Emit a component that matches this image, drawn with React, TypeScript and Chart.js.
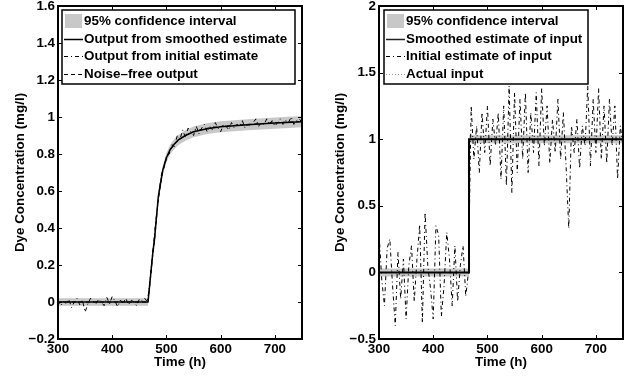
import React, { useEffect, useRef } from 'react';
import { Chart, registerables } from 'chart.js';

Chart.register(...registerables);

const FONT = '"Liberation Sans", Arial, Helvetica, sans-serif';
const FONT_SIZE = 13.4;

// ---------- axes ----------
const xMin = 300;
const xMax = 750;
const xTickValues = [300, 400, 500, 600, 700];
const leftYMin = -0.2;
const leftYMax = 1.6;
const leftYStep = 0.2;
const rightYMin = -0.5;
const rightYMax = 2;
const rightYStep = 0.5;
const xTitle = 'Time (h)';
const yTitle = 'Dye Concentration (mg/l)';

// ---------- noisy series sampled every 5 h ----------
const sampleTimes = [
  300, 305, 310, 315, 320, 325, 330, 335, 340, 345,
  350, 355, 360, 365, 370, 375, 380, 385, 390, 395,
  400, 405, 410, 415, 420, 425, 430, 435, 440, 445,
  450, 455, 460, 465, 470, 475, 480, 485, 490, 495,
  500, 505, 510, 515, 520, 525, 530, 535, 540, 545,
  550, 555, 560, 565, 570, 575, 580, 585, 590, 595,
  600, 605, 610, 615, 620, 625, 630, 635, 640, 645,
  650, 655, 660, 665, 670, 675, 680, 685, 690, 695,
  700, 705, 710, 715, 720, 725, 730, 735, 740, 745,
  750,
];

// left panel: output from initial estimate (noisy)
const outputFromInitial = [
  0.01, -0.02, 0.005, -0.01, 0.015, -0.03, 0.0, 0.02, -0.015, 0.01,
  -0.055, -0.01, 0.02, 0.005, -0.01, 0.015, 0.0, -0.02, 0.025, -0.01,
  0.03, 0.005, -0.025, 0.01, -0.005, 0.02, -0.015, 0.01, 0.0, -0.02,
  0.015, 0.005, 0.02, 0.0, 0.13, 0.28, 0.43, 0.55, 0.68, 0.73,
  0.79, 0.8, 0.85, 0.84, 0.9, 0.88, 0.93, 0.89, 0.94, 0.92,
  0.9, 0.95, 0.91, 0.94, 0.96, 0.92, 0.95, 0.93, 0.97, 0.94,
  0.92, 0.96, 0.95, 0.93, 0.97, 0.94, 0.96, 0.95, 0.98, 0.94,
  0.96, 0.95, 0.97, 0.99, 0.95, 0.97, 0.96, 0.99, 0.96, 0.98,
  0.95, 0.97, 0.99, 0.96, 0.98, 0.97, 1.0, 0.96, 0.98, 0.99,
  0.97,
];

// right panel: initial estimate of input (noisy)
const initialInput = [
  0.3, -0.05, -0.25, 0.18, 0.25, -0.1, -0.4, 0.15, -0.2, 0.1,
  -0.35, 0.05, 0.2, -0.22, 0.1, 0.36, -0.38, 0.45, 0.05, -0.12,
  -0.35, 0.35, 0.28, -0.33, -0.1, 0.3, 0.1, -0.25, 0.2, -0.22,
  0.05, 0.2, -0.18, 0.0, 1.25, 0.85, 1.1, 0.75, 1.2, 0.9,
  1.25, 0.8, 1.15, 0.95, 1.2, 0.7, 1.25, 0.65, 1.4, 0.6,
  1.35, 0.75, 1.3, 0.85, 1.35, 0.75, 1.2, 0.9, 1.35, 0.8,
  1.38, 0.95, 1.25, 0.82, 1.15, 0.9, 1.3, 0.85, 1.2, 0.8,
  0.33, 1.1, 0.9, 1.15, 0.78, 1.1, 0.95, 1.4, 0.8, 1.3,
  0.9, 1.38, 0.85, 1.25, 0.82, 1.3, 0.95, 1.25, 0.7, 1.1,
  0.95,
];

// ---------- left panel smooth curves ----------
const leftCurveTimes = [300, 466, 470, 475, 478, 485, 493, 500, 507, 515, 522, 535, 550, 575, 600, 650, 700, 750];
const outputFromSmoothed = [0, 0, 0.12, 0.27, 0.34, 0.57, 0.71, 0.78, 0.825, 0.855, 0.876, 0.9, 0.92, 0.937, 0.947, 0.958, 0.967, 0.975];
const noiseFreeOutput = [0, 0, 0.11, 0.26, 0.33, 0.56, 0.7, 0.775, 0.82, 0.853, 0.875, 0.9, 0.921, 0.939, 0.949, 0.96, 0.969, 0.976];
const leftCiUpper = [0.02, 0.02, 0.145, 0.295, 0.365, 0.595, 0.735, 0.805, 0.85, 0.882, 0.903, 0.928, 0.949, 0.966, 0.977, 0.988, 0.997, 1.005];
const leftCiLower = [-0.02, -0.02, 0.095, 0.245, 0.315, 0.545, 0.685, 0.755, 0.8, 0.828, 0.849, 0.872, 0.891, 0.908, 0.917, 0.928, 0.937, 0.945];

// ---------- right panel step curves ----------
const rightStepTimes = [300, 466, 466, 750];
const smoothedInput = [0, 0, 1, 1];
const actualInput = [0, 0, 1, 1];
const rightCiUpper = [0.03, 0.03, 1.03, 1.03];
const rightCiLower = [-0.03, -0.03, 0.97, 0.97];

// ---------- legends ----------
const leftLegendLabels = [
  '95% confidence interval',
  'Output from smoothed estimate',
  'Output from initial estimate',
  'Noise\u2013free output',
];
const rightLegendLabels = [
  '95% confidence interval',
  'Smoothed estimate of input',
  'Initial estimate of input',
  'Actual input',
];

const CI_GRAY = '#c8c8c8';
const DASH_DOT = [4, 3, 1, 3];
const DASHED = [4, 3];
const DOTTED = [1, 2];

type Pt = { x: number; y: number };
const zip = (xs: number[], ys: number[]): Pt[] => xs.map((x, i) => ({ x, y: ys[i] }));

type LegendItem = { label: string; kind: 'patch' | 'line'; color: string; width: number; dash: number[] };
type LegendBox = { x: number; y: number; w: number; h: number; items: LegendItem[] };

function decorPlugin(legend: LegendBox) {
  return {
    id: 'decor',
    afterDraw(chart: any) {
      const { ctx, chartArea: a, scales } = chart;
      const xs = scales.x;
      const ys = scales.y;
      ctx.save();
      ctx.setLineDash([]);
      ctx.strokeStyle = '#000';
      ctx.lineWidth = 1;
      const tl = 4;
      ctx.beginPath();
      xs.ticks.forEach((t: any) => {
        const px = Math.round(xs.getPixelForValue(t.value)) + 0.5;
        ctx.moveTo(px, a.bottom);
        ctx.lineTo(px, a.bottom - tl);
        ctx.moveTo(px, a.top);
        ctx.lineTo(px, a.top + tl);
      });
      ys.ticks.forEach((t: any) => {
        const py = Math.round(ys.getPixelForValue(t.value)) + 0.5;
        ctx.moveTo(a.left, py);
        ctx.lineTo(a.left + tl, py);
        ctx.moveTo(a.right, py);
        ctx.lineTo(a.right - tl, py);
      });
      ctx.stroke();
      ctx.lineWidth = 2;
      ctx.strokeRect(a.left, a.top, a.right - a.left, a.bottom - a.top);

      // legend
      ctx.fillStyle = '#fff';
      ctx.fillRect(legend.x, legend.y, legend.w, legend.h);
      ctx.lineWidth = 1.5;
      ctx.strokeStyle = '#000';
      ctx.strokeRect(legend.x, legend.y, legend.w, legend.h);
      ctx.font = `bold ${FONT_SIZE}px ${FONT}`;
      ctx.textBaseline = 'middle';
      ctx.textAlign = 'left';
      legend.items.forEach((it, i) => {
        const cy = legend.y + 11 + i * 17.6;
        if (it.kind === 'patch') {
          ctx.fillStyle = it.color;
          ctx.fillRect(legend.x + 3, cy - 7, 17, 14);
        } else {
          ctx.beginPath();
          ctx.setLineDash(it.dash);
          ctx.strokeStyle = it.color;
          ctx.lineWidth = it.width;
          ctx.moveTo(legend.x + 2, Math.round(cy) + 0.5);
          ctx.lineTo(legend.x + 21, Math.round(cy) + 0.5);
          ctx.stroke();
          ctx.setLineDash([]);
        }
        ctx.fillStyle = '#000';
        ctx.fillText(it.label, legend.x + 22, cy + 0.5);
      });
      ctx.restore();
    },
  };
}

const tickFont = { family: FONT, size: FONT_SIZE, weight: 'bold' as const };
const fmt = (v: number) => String(Math.round(v * 10) / 10).replace('-', '\u2212');

function buildConfig(opts: {
  datasets: any[];
  yMin: number;
  yMax: number;
  yStep: number;
  yAxisWidth: number;
  rightPad: number;
  yTitlePad: number;
  legend: LegendBox;
}) {
  return {
    type: 'line' as const,
    data: { datasets: opts.datasets },
    options: {
      animation: false as const,
      responsive: false,
      devicePixelRatio: 1,
      layout: { padding: { left: 0, top: 6, right: opts.rightPad, bottom: 0 } },
      elements: { point: { radius: 0 }, line: { tension: 0 } },
      plugins: { legend: { display: false }, tooltip: { enabled: false } },
      scales: {
        x: {
          type: 'linear' as const,
          min: xMin,
          max: xMax,
          grid: { display: false, drawTicks: false },
          border: { display: false },
          ticks: {
            autoSkip: false,
            maxRotation: 0,
            padding: 2,
            color: '#000',
            font: tickFont,
            callback: (v: any) => String(v),
          },
          afterBuildTicks: (s: any) => {
            s.ticks = xTickValues.map((v) => ({ value: v }));
          },
          title: { display: true, text: xTitle, color: '#000', font: tickFont, padding: { top: 6, bottom: 6 } },
          afterFit: (s: any) => {
            s.height = 37;
            s.paddingLeft = 0;
            s.paddingRight = 0;
          },
        },
        y: {
          type: 'linear' as const,
          min: opts.yMin,
          max: opts.yMax,
          grid: { display: false, drawTicks: false },
          border: { display: false },
          ticks: {
            stepSize: opts.yStep,
            autoSkip: false,
            padding: 3,
            color: '#000',
            font: tickFont,
            callback: (v: any) => fmt(Number(v)),
          },
          title: { display: true, text: yTitle, color: '#000', font: tickFont, padding: { top: opts.yTitlePad, bottom: opts.yTitlePad } },
          afterFit: (s: any) => {
            s.width = opts.yAxisWidth;
            s.paddingTop = 0;
            s.paddingBottom = 0;
          },
        },
      },
    },
    plugins: [decorPlugin(opts.legend)],
  };
}

const hidden = 'rgba(0,0,0,0)';

function leftConfig() {
  return buildConfig({
    yMin: leftYMin,
    yMax: leftYMax,
    yStep: leftYStep,
    yAxisWidth: 58,
    rightPad: 16,
    yTitlePad: 12,
    legend: {
      x: 62,
      y: 10,
      w: 233,
      h: 74,
      items: [
        { label: leftLegendLabels[0], kind: 'patch', color: CI_GRAY, width: 0, dash: [] },
        { label: leftLegendLabels[1], kind: 'line', color: '#000', width: 1.5, dash: [] },
        { label: leftLegendLabels[2], kind: 'line', color: '#000', width: 1, dash: DASH_DOT },
        { label: leftLegendLabels[3], kind: 'line', color: '#000', width: 1, dash: DASHED },
      ],
    },
    datasets: [
      { label: leftLegendLabels[1], data: zip(leftCurveTimes, outputFromSmoothed), borderColor: '#000', borderWidth: 1.5, fill: false },
      { label: leftLegendLabels[2], data: zip(sampleTimes, outputFromInitial), borderColor: '#000', borderWidth: 1, borderDash: DASH_DOT, fill: false },
      { label: leftLegendLabels[3], data: zip(leftCurveTimes, noiseFreeOutput), borderColor: '#000', borderWidth: 1, borderDash: DASHED, fill: false },
      { label: 'ci upper', data: zip(leftCurveTimes, leftCiUpper), borderColor: hidden, borderWidth: 1, backgroundColor: CI_GRAY, fill: '+1' },
      { label: 'ci lower', data: zip(leftCurveTimes, leftCiLower), borderColor: hidden, borderWidth: 1, fill: false },
    ],
  });
}

function rightConfig() {
  return buildConfig({
    yMin: rightYMin,
    yMax: rightYMax,
    yStep: rightYStep,
    yAxisWidth: 61,
    rightPad: 14,
    yTitlePad: 14,
    legend: {
      x: 66,
      y: 10,
      w: 204,
      h: 74,
      items: [
        { label: rightLegendLabels[0], kind: 'patch', color: CI_GRAY, width: 0, dash: [] },
        { label: rightLegendLabels[1], kind: 'line', color: '#222', width: 1.5, dash: [] },
        { label: rightLegendLabels[2], kind: 'line', color: '#000', width: 1, dash: DASH_DOT },
        { label: rightLegendLabels[3], kind: 'line', color: '#999', width: 1, dash: DOTTED },
      ],
    },
    datasets: [
      { label: rightLegendLabels[1], data: zip(rightStepTimes, smoothedInput), borderColor: '#000', borderWidth: 2, fill: false },
      { label: rightLegendLabels[2], data: zip(sampleTimes, initialInput), borderColor: '#000', borderWidth: 1, borderDash: DASH_DOT, fill: false },
      { label: rightLegendLabels[3], data: zip(rightStepTimes, actualInput), borderColor: '#999', borderWidth: 1, borderDash: DOTTED, fill: false },
      { label: 'ci upper', data: zip(rightStepTimes, rightCiUpper), borderColor: hidden, borderWidth: 1, backgroundColor: CI_GRAY, fill: '+1' },
      { label: 'ci lower', data: zip(rightStepTimes, rightCiLower), borderColor: hidden, borderWidth: 1, fill: false },
    ],
  });
}

function Panel({ make, left, width }: { make: () => any; left: number; width: number }) {
  const ref = useRef<HTMLCanvasElement>(null);
  useEffect(() => {
    const chart = new Chart(ref.current as HTMLCanvasElement, make());
    return () => chart.destroy();
  }, []);
  return (
    <canvas
      ref={ref}
      width={width}
      height={376}
      style={{ position: 'absolute', left, top: 0, width, height: 376 }}
    />
  );
}

export default function App() {
  return (
    <div style={{ position: 'fixed', left: 0, top: 0, width: 637, height: 376, background: '#fff', overflow: 'hidden' }}>
      <Panel make={leftConfig} left={0} width={318} />
      <Panel make={rightConfig} left={318} width={319} />
    </div>
  );
}
